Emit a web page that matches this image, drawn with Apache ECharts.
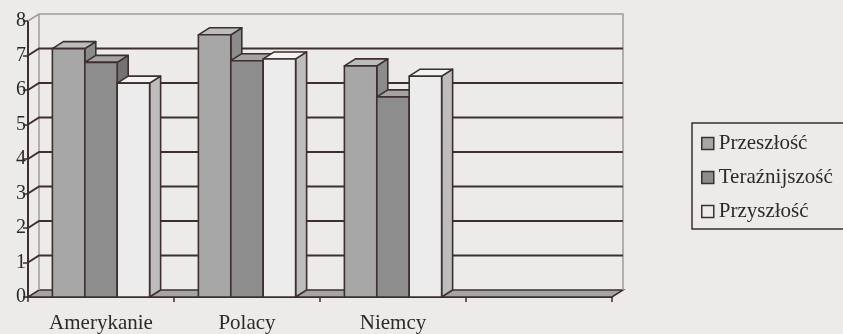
<!DOCTYPE html>
<html><head><meta charset="utf-8">
<script src="https://cdn.jsdelivr.net/npm/echarts@6/dist/echarts.min.js"></script>
<style>html,body{margin:0;padding:0;background:#ecebea;}#c{width:843px;height:334px;}</style>
</head><body><div id="c"></div>
<script>
const categories = ['Amerykanie', 'Polacy', 'Niemcy', ''];
const seriesNames = ['Przeszłość', 'Teraźnijszość', 'Przyszłość'];
const przeszlosc = [7.2, 7.6, 6.7];
const terazniejszosc = [6.8, 6.85, 5.8];
const przyszlosc = [6.2, 6.9, 6.4];
const yTicks = [0, 1, 2, 3, 4, 5, 6, 7, 8];

const DX = 11, DY = 7;
const EDGE = '#3d2f2d';
const faces = [
  {front: '#a7a7a7', top: '#bcbcbc', side: '#8b8b8b'},
  {front: '#8d8d8d', top: '#a3a3a3', side: '#727272'},
  {front: '#ececec', top: '#f3f3f3', side: '#bdbdbd'}
];
const FONT = '"Liberation Serif", "DejaVu Serif", serif';

function barSeries(idx, values) {
  return {
    type: 'custom', name: seriesNames[idx], z: 3,
    itemStyle: {color: faces[idx].front, borderColor: EDGE},
    data: values.map((v, i) => [i, v]),
    renderItem: function (params, api) {
      const cat = api.value(0), val = api.value(1);
      const base = api.coord([cat, 0]);
      const top = api.coord([cat, val]);
      const band = api.size([1, 0])[0];
      const bw = band * 0.222;
      const x0 = base[0] - 1.5 * bw + idx * bw;
      const yb = base[1], yt = top[1];
      const st = {stroke: EDGE, lineWidth: 1.6, lineJoin: 'round'};
      return {type: 'group', children: [
        {type: 'polygon', shape: {points: [[x0 + bw, yt], [x0 + bw + DX, yt - DY], [x0 + bw + DX, yb - DY], [x0 + bw, yb]]},
          style: Object.assign({fill: faces[idx].side}, st)},
        {type: 'polygon', shape: {points: [[x0, yt], [x0 + bw, yt], [x0 + bw + DX, yt - DY], [x0 + DX, yt - DY]]},
          style: Object.assign({fill: faces[idx].top}, st)},
        {type: 'rect', shape: {x: x0, y: yt, width: bw, height: yb - yt},
          style: Object.assign({fill: faces[idx].front}, st)}
      ]};
    }
  };
}

const wallSeries = {
  type: 'custom', name: '_walls', z: 1, silent: true,
  data: [[0, 0]],
  renderItem: function (params, api) {
    const cs = params.coordSys;
    const x = cs.x, y = cs.y, w = cs.width, h = cs.height;
    const children = [];
    children.push({type: 'polygon', shape: {points: [[x, y + h], [x + w, y + h], [x + w + DX, y + h - DY], [x + DX, y + h - DY]]},
      style: {fill: '#a4a4a4', stroke: EDGE, lineWidth: 1.5}});
    children.push({type: 'polyline', shape: {points: [[x, y], [x + DX, y - DY], [x + w + DX, y - DY], [x + w + DX, y + h - DY]]},
      style: {fill: null, stroke: '#a09c9a', lineWidth: 1.5}});
    children.push({type: 'line', shape: {x1: x + DX, y1: y - DY, x2: x + DX, y2: y + h - DY},
      style: {stroke: '#a09c9a', lineWidth: 1.5}});
    yTicks.forEach(function (t) {
      if (t === 0 || t === yTicks[yTicks.length - 1]) return;
      const yy = api.coord([0, t])[1];
      children.push({type: 'polyline', shape: {points: [[x, yy], [x + DX, yy - DY], [x + w + DX, yy - DY]]},
        style: {fill: null, stroke: EDGE, lineWidth: 2}});
    });
    return {type: 'group', children: children};
  }
};

const chart = echarts.init(document.getElementById('c'), null, {renderer: 'canvas'});
chart.setOption({
  backgroundColor: '#ecebea',
  animation: false,
  grid: {left: 28, right: 231, top: 21, bottom: 32, containLabel: false},
  xAxis: {
    type: 'category', data: categories,
    axisLine: {show: true, lineStyle: {color: EDGE, width: 2}},
    axisTick: {show: true, length: 5, lineStyle: {color: EDGE, width: 1.5}},
    axisLabel: {color: '#2a2a2a', fontFamily: FONT, fontSize: 21, margin: 16},
    splitLine: {show: false}
  },
  yAxis: {
    type: 'value', min: 0, max: 8, interval: 1,
    axisLine: {show: true, lineStyle: {color: EDGE, width: 2}},
    axisTick: {show: true, length: 5, lineStyle: {color: EDGE, width: 1.5}},
    axisLabel: {color: '#2a2a2a', fontFamily: FONT, fontSize: 20, margin: 2,
      formatter: function (v) { return yTicks.indexOf(v) >= 0 ? String(v) : ''; }},
    splitLine: {show: false}
  },
  legend: {
    orient: 'vertical', left: 692, top: 123,
    padding: [10, 12, 7, 9],
    itemGap: 13, itemWidth: 12, itemHeight: 12,
    borderColor: EDGE, borderWidth: 1.5, backgroundColor: '#ecebea',
    textStyle: {color: '#2a2a2a', fontFamily: FONT, fontSize: 21, lineHeight: 20},
    data: seriesNames.map(function (n, i) {
      return {name: n, icon: 'rect', itemStyle: {color: faces[i].front, borderColor: EDGE, borderWidth: 1.5}};
    })
  },
  series: [
    wallSeries,
    barSeries(0, przeszlosc),
    barSeries(1, terazniejszosc),
    barSeries(2, przyszlosc)
  ]
});
</script></body></html>
